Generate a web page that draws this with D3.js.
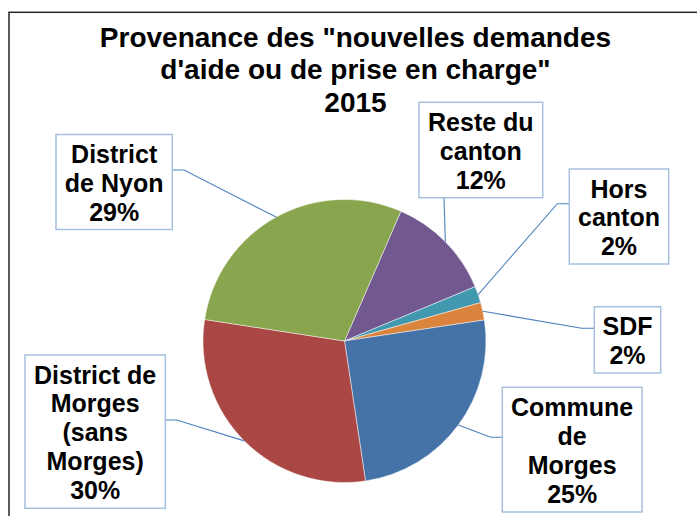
<!DOCTYPE html>
<html>
<head>
<meta charset="utf-8">
<script src="https://cdn.jsdelivr.net/npm/d3@7/dist/d3.min.js"></script>
<style>
  html, body { margin: 0; padding: 0; background: #ffffff; }
  svg { display: block; }
  text { font-family: "Liberation Sans", Arial, sans-serif; font-weight: bold; fill: #000; }
</style>
</head>
<body>
<svg id="chart" width="697" height="516"></svg>
<script>
// ---- data ----
const titleLines = ["Provenance des \"nouvelles demandes", "d'aide ou de prise en charge\"", "2015"];
const categories = ["Reste du canton", "Hors canton", "SDF", "Commune de Morges",
                    "District de Morges (sans Morges)", "District de Nyon"];
const values = [12.2, 1.9, 2.0, 25.0, 29.8, 29.1];
const labelLines = [["Reste du", "canton"], ["Hors", "canton"], ["SDF"],
                    ["Commune", "de", "Morges"], ["District de", "Morges", "(sans", "Morges)"],
                    ["District", "de Nyon"]];
const colors = ["#71588F", "#4198AF", "#DB843D", "#4572A7", "#AA4643", "#89A54E"];

// ---- layout (label boxes and leader elbows) ----
const boxes = [
  { x: 419,   y: 102.3, w: 123.7, h: 95.4,  start: [444, 197.7],   elbow: null },
  { x: 569.3, y: 169,   w: 99.4,  h: 95,    start: [569.3, 203.7], elbow: [557.3, 203.7] },
  { x: 594.3, y: 306.7, w: 66.4,  h: 66.3,  start: [594.3, 328.3], elbow: [581.7, 328.3] },
  { x: 502.3, y: 387.3, w: 139.7, h: 124.7, start: [502.3, 437.3], elbow: [490.7, 437.3] },
  { x: 25,    y: 355,   w: 140.3, h: 153.3, start: [165.3, 420],   elbow: [176.7, 420] },
  { x: 56,    y: 134.5, w: 116.3, h: 95,    start: [172.3, 170],   elbow: [184, 170] }
];

const svg = d3.select("#chart");

// chart border
svg.append("rect")
  .attr("x", 9).attr("y", 12.3).attr("width", 720).attr("height", 540)
  .attr("fill", "#fff").attr("stroke", "#262626").attr("stroke-width", 1.5);

// title
const titleBase = [46.7, 78.7, 111.7];
svg.append("g").selectAll("text").data(titleLines).join("text")
  .attr("x", 355.5).attr("y", (d, i) => titleBase[i])
  .attr("text-anchor", "middle").attr("font-size", 28)
  .text(d => d);

// pie
const cx = 344.5, cy = 341, r = 141.5;
const start = 23.5 * Math.PI / 180;
const pie = d3.pie().sort(null).startAngle(start).endAngle(start + 2 * Math.PI);
const arcs = pie(values);
const arc = d3.arc().innerRadius(0).outerRadius(r);
const edge = d3.arc().innerRadius(r).outerRadius(r);

const g = svg.append("g").attr("transform", `translate(${cx},${cy})`);
g.selectAll("path").data(arcs).join("path")
  .attr("d", arc)
  .attr("fill", (d, i) => colors[i])
  .attr("stroke", "#ffffff").attr("stroke-width", 0.6).attr("stroke-opacity", 0.8);

// leaders
const line = d3.line();
svg.append("g").selectAll("path").data(arcs).join("path")
  .attr("d", (d, i) => {
    const b = boxes[i];
    const c = edge.centroid(d);
    const p = [cx + c[0], cy + c[1]];
    const pts = b.elbow ? [b.start, b.elbow, p] : [b.start, p];
    return line(pts);
  })
  .attr("fill", "none").attr("stroke", "#4F81BD").attr("stroke-width", 1.1);

// label boxes
const fmt = d3.format(".0f");
const lg = svg.append("g").selectAll("g").data(arcs).join("g");
lg.append("rect")
  .attr("x", (d, i) => boxes[i].x).attr("y", (d, i) => boxes[i].y)
  .attr("width", (d, i) => boxes[i].w).attr("height", (d, i) => boxes[i].h)
  .attr("fill", "#fff").attr("stroke", "#A7C0DE").attr("stroke-width", 1.5);
lg.each(function(d, i) {
  const b = boxes[i];
  const lines = labelLines[i].concat([fmt(values[i]) + "%"]);
  const n = lines.length;
  const spacing = (b.h - 37.5) / Math.max(1, n - 1);
  d3.select(this).selectAll("text").data(lines).join("text")
    .attr("x", b.x + b.w / 2)
    .attr("y", (t, k) => b.y + 28.5 + k * spacing)
    .attr("text-anchor", "middle").attr("font-size", 25)
    .text(t => t);
});
</script>
</body>
</html>
